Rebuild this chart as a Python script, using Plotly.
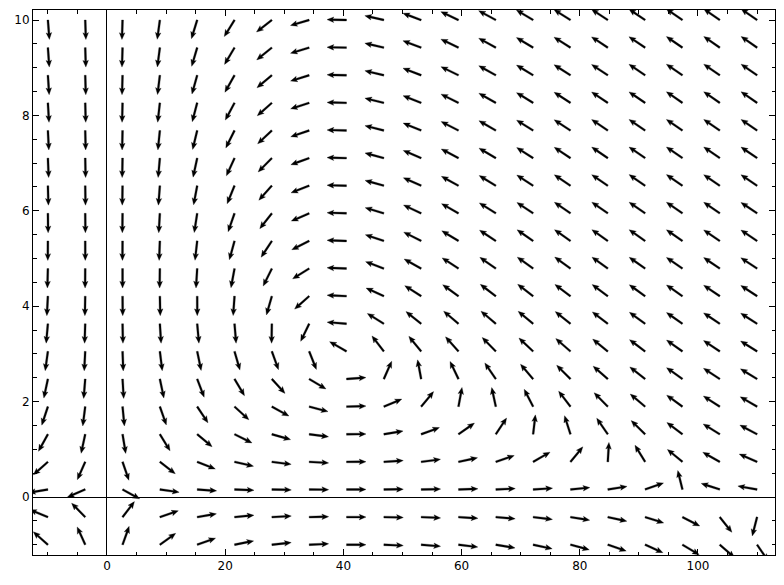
import numpy as np
import plotly.graph_objects as go

# Grid of arrow tails (20 x 20)
x_grid = np.linspace(-10, 110, 20)
y_grid = np.linspace(-1, 10, 20)

# Field model: logistic prey / predator system
# dx/dt = x*(a - e*x - b*y),  dy/dt = y*(d*x - c)
a_rate = 5.0
e_crowd = 0.05
b_pred = 1.0
d_gain = 1.15
c_death = 40.0 * d_gain

# axis ranges / ticks
x_range = [-12.52, 113.03]
y_range = [-1.216, 10.21]
x_ticks = [0, 20, 40, 60, 80, 100]
y_ticks = [0, 2, 4, 6, 8, 10]

X, Y = np.meshgrid(x_grid, y_grid)
U = X * (a_rate - e_crowd * X - b_pred * Y)
V = Y * (d_gain * X - c_death)

# arrow glyph (pixels), matplotlib-quiver-like
L = 19.5
w = 1.9
hl, hal, hw = 6.8, 5.8, 5.6
glyph = [(0, -w / 2), (L - hal, -w / 2), (L - hl, -hw / 2), (L, 0),
         (L - hl, hw / 2), (L - hal, w / 2), (0, w / 2)]

shapes = []
for xv, yv, uv, vv in zip(X.ravel(), Y.ravel(), U.ravel(), V.ravel()):
    th = np.arctan2(vv, uv)
    c, s = np.cos(th), np.sin(th)
    pts = [(px * c - py * s, px * s + py * c) for px, py in glyph]
    path = "M " + " L ".join(f"{p[0]:.2f},{p[1]:.2f}" for p in pts) + " Z"
    shapes.append(dict(type="path", xref="x", yref="y",
                       xsizemode="pixel", ysizemode="pixel",
                       xanchor=float(xv), yanchor=float(yv), path=path,
                       fillcolor="black", line=dict(width=0.3, color="black"),
                       layer="above"))

fig = go.Figure()
fig.add_trace(go.Scatter(x=X.ravel(), y=Y.ravel(), mode="markers",
                         marker=dict(size=1, opacity=0), hoverinfo="skip",
                         showlegend=False))

axis_common = dict(showgrid=False, showline=True, linecolor="black", linewidth=1,
                   mirror="ticks", ticks="inside", ticklen=6, tickwidth=1,
                   tickcolor="black", zeroline=True, zerolinecolor="black",
                   zerolinewidth=1,
                   tickfont=dict(family="DejaVu Sans", size=12, color="black"))

fig.update_xaxes(range=x_range, tickvals=x_ticks,
                 minor=dict(dtick=5, tick0=0, ticks="inside", ticklen=3.5,
                            tickcolor="black", showgrid=False), **axis_common)
fig.update_yaxes(range=y_range, tickvals=y_ticks,
                 minor=dict(dtick=0.5, tick0=0, ticks="inside", ticklen=3.5,
                            tickcolor="black", showgrid=False), **axis_common)

fig.update_layout(width=784, height=585, margin=dict(l=33, r=9, t=10, b=30),
                  plot_bgcolor="white", paper_bgcolor="white", shapes=shapes,
                  showlegend=False)

fig.write_html("out.html")
